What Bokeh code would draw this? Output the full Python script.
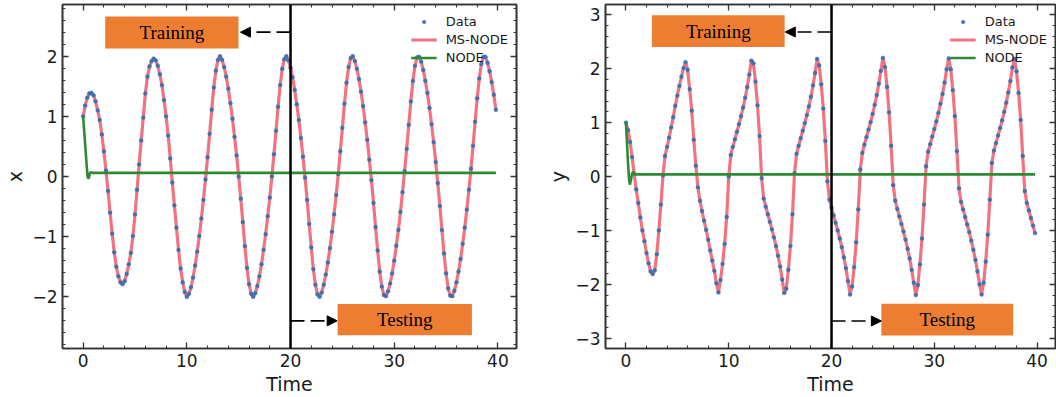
from bokeh.plotting import figure
from bokeh.layouts import row
from bokeh.models import (LinearAxis, SingleIntervalTicker, Span, Arrow, NormalHead,
                          Legend, LegendItem, Label, BoxAnnotation, CustomJSTickFormatter, Range1d)
from bokeh.embed import file_html
from bokeh.resources import INLINE

# ---------------- data ----------------
# samples every 0.2 time units, t = 0 ... 39.8
time = [round(0.2 * i, 1) for i in range(200)]

data_x = [
    1.00, 1.18, 1.31, 1.38, 1.39, 1.35, 1.25, 1.10, 0.94, 0.70,
    0.42, 0.10, -0.24, -0.60, -0.95, -1.26, -1.50, -1.66, -1.76, -1.79,
    -1.74, -1.62, -1.46, -1.27, -0.99, -0.63, -0.22, 0.20, 0.60, 0.98,
    1.38, 1.66, 1.83, 1.92, 1.96, 1.93, 1.84, 1.70, 1.52, 1.27,
    1.00, 0.68, 0.30, -0.10, -0.48, -0.85, -1.22, -1.53, -1.76, -1.92,
    -2.00, -1.95, -1.84, -1.68, -1.48, -1.25, -0.99, -0.70, -0.39, -0.05,
    0.32, 0.71, 1.11, 1.48, 1.76, 1.94, 2.00, 1.94, 1.82, 1.66,
    1.46, 1.22, 0.96, 0.66, 0.35, 0.00, -0.37, -0.76, -1.16, -1.52,
    -1.79, -1.95,
    -2.00, -1.94, -1.82, -1.66, -1.46, -1.22, -0.96, -0.66, -0.35, 0.00,
    0.37, 0.76, 1.16, 1.52, 1.79, 1.95, 2.00, 1.93, 1.81, 1.65,
    1.44, 1.20, 0.94, 0.64, 0.33, -0.02, -0.39, -0.79, -1.18, -1.54,
    -1.80, -1.96,
    -2.00, -1.93, -1.80, -1.63, -1.43, -1.19, -0.92, -0.63, -0.31, 0.04,
    0.42, 0.81, 1.21, 1.56, 1.82, 1.97, 2.00, 1.92, 1.79, 1.62,
    1.41, 1.17, 0.90, 0.61, 0.28, -0.06, -0.44, -0.84, -1.23, -1.58,
    -1.83, -1.97,
    -1.99, -1.91, -1.78, -1.61, -1.40, -1.15, -0.89, -0.59, -0.26, 0.09,
    0.46, 0.86, 1.25, 1.59, 1.84, 1.98, 1.99, 1.91, 1.77, 1.59,
    1.39, 1.14, 0.87, 0.57, 0.24, -0.11, -0.49, -0.89, -1.28, -1.61,
    -1.86, -1.98,
    -1.99, -1.90, -1.76, -1.58, -1.37, -1.12, -0.85, -0.55, -0.22, 0.13,
    0.51, 0.91, 1.30, 1.63, 1.87, 1.99, 1.99, 1.89, 1.75, 1.57,
    1.36, 1.11,
]

data_y = [
    1.00, 0.86, 0.64, 0.36, 0.05, -0.24, -0.49, -0.76, -1.00, -1.20,
    -1.42, -1.61, -1.76, -1.81, -1.74, -1.44, -1.00, -0.52, 0.02, 0.38,
    0.55, 0.72, 0.91, 1.10, 1.31, 1.50, 1.68, 1.85, 2.01, 2.12,
    1.98, 1.62, 1.22, 0.68, 0.20, -0.20, -0.45, -0.64, -0.82, -0.99,
    -1.17, -1.37, -1.56, -1.75, -1.98, -2.15, -1.92, -1.62, -1.25, -0.75,
    0.00, 0.40, 0.55, 0.69, 0.83, 0.97, 1.12, 1.28, 1.46, 1.66,
    1.89, 2.15, 2.10, 1.76, 1.32, 0.75, -0.03, -0.41, -0.56, -0.70,
    -0.84, -0.98, -1.13, -1.29, -1.47, -1.67, -1.91, -2.16, -2.08, -1.73,
    -1.29, -0.70,
    0.06, 0.42, 0.57, 0.71, 0.85, 0.99, 1.14, 1.30, 1.48, 1.69,
    1.92, 2.18, 2.06, 1.71, 1.26, 0.66, -0.09, -0.43, -0.58, -0.72,
    -0.86, -1.00, -1.15, -1.31, -1.50, -1.70, -1.94, -2.19, -2.04, -1.68,
    -1.22, -0.61,
    0.13, 0.44, 0.59, 0.73, 0.87, 1.01, 1.16, 1.33, 1.51, 1.72,
    1.96, 2.20, 2.03, 1.66, 1.19, 0.57, -0.16, -0.45, -0.60, -0.74,
    -0.88, -1.02, -1.17, -1.34, -1.52, -1.73, -1.97, -2.20, -2.01, -1.63,
    -1.15, -0.52,
    0.19, 0.46, 0.60, 0.74, 0.88, 1.02, 1.18, 1.35, 1.53, 1.74,
    1.99, 2.19, 1.99, 1.60, 1.12, 0.47, -0.22, -0.47, -0.61, -0.75,
    -0.89, -1.03, -1.19, -1.36, -1.55, -1.76, -2.00, -2.19, -1.97, -1.58,
    -1.08, -0.43,
    0.25, 0.48, 0.62, 0.76, 0.90, 1.04, 1.20, 1.37, 1.56, 1.77,
    2.02, 2.18, 1.95, 1.55, 1.05, 0.38, -0.27, -0.49, -0.63, -0.77,
    -0.91, -1.05,
]

# MS-NODE prediction follows the data points
msnode_x = list(data_x)
msnode_y = list(data_y)

# NODE prediction: quick collapse to a near-constant value
node_t = [0.0, 0.1, 0.2, 0.3, 0.4, 0.45, 0.55, 0.65, 0.75, 0.9, 39.8]
node_x = [1.00, 0.76, 0.52, 0.28, 0.05, -0.02, -0.03, 0.06, 0.07, 0.06, 0.06]
node_ty = [0.0, 0.1, 0.2, 0.3, 0.38, 0.5, 0.6, 0.7, 0.9, 39.8]
node_y = [1.00, 0.62, 0.25, -0.05, -0.15, -0.05, 0.06, 0.08, 0.04, 0.04]

split_time = 20
labels = ["Data", "MS-NODE", "NODE"]

# ---------------- styles ----------------
C_DATA = "#3A6FB0"
C_MS = "#EE5B6C"
C_NODE = "#2E8B34"
C_ORANGE = "#ED7D31"
AX = "#333333"
FONT = "DejaVu Sans"

minus_fmt = "return (tick < 0 ? '\u2212' : '') + Math.abs(tick).toFixed(0);"


def style_axis(ax, interval, show_labels=True):
    ax.ticker = SingleIntervalTicker(interval=interval, num_minor_ticks=5)
    ax.major_tick_in = 6
    ax.major_tick_out = 0
    ax.minor_tick_in = 3
    ax.minor_tick_out = 0
    ax.major_tick_line_color = AX
    ax.minor_tick_line_color = AX
    ax.major_tick_line_width = 1.3
    ax.minor_tick_line_width = 1.0
    ax.axis_line_color = AX
    ax.axis_line_width = 1.6
    if show_labels:
        ax.formatter = CustomJSTickFormatter(code=minus_fmt)
        ax.major_label_text_font = FONT
        ax.major_label_text_font_size = "17px"
        ax.major_label_text_color = "#1a1a1a"
        ax.major_label_standoff = 5
        ax.axis_label_text_font = FONT
        ax.axis_label_text_font_size = "19px"
        ax.axis_label_text_font_style = "normal"
        ax.axis_label_text_color = "#1a1a1a"
    else:
        ax.formatter = CustomJSTickFormatter(code="return '';")
        ax.major_label_text_font_size = "1px"
        ax.major_label_standoff = 0


def panel(series, ms, node_tt, node_v, ylab, yr, width, mb_right, train_box, test_box,
          train_arrow_end, test_arrow_end, arrow_y):
    p = figure(width=width, height=397, output_backend="svg", toolbar_location=None,
               x_range=Range1d(-1.99, 41.79), y_range=Range1d(-yr, yr),
               min_border_left=62, min_border_right=mb_right, min_border_top=4,
               min_border_bottom=47, x_axis_label="Time", y_axis_label=ylab)
    p.xgrid.visible = False
    p.ygrid.visible = False
    p.outline_line_color = AX
    p.outline_line_width = 1.6
    p.background_fill_color = "white"
    p.border_fill_color = "white"
    style_axis(p.xaxis[0], 10)
    style_axis(p.yaxis[0], 1)
    p.xaxis[0].axis_label_standoff = 3
    p.yaxis[0].axis_label_standoff = 3
    top = LinearAxis()
    style_axis(top, 10, show_labels=False)
    p.add_layout(top, "above")
    right = LinearAxis()
    style_axis(right, 1, show_labels=False)
    p.add_layout(right, "right")

    r_ms = p.line(time, ms, line_color=C_MS, line_width=3.2, line_alpha=0.85)
    r_data = p.scatter(time, series, size=3.8, fill_color=C_DATA, line_color=C_DATA,
                       line_alpha=0.5, fill_alpha=0.95)
    r_node = p.line(node_tt, node_v, line_color=C_NODE, line_width=2.6)

    p.add_layout(Span(location=split_time, dimension="height", line_color="black",
                      line_width=2.5))

    for (l, r, b, t), txt in ((train_box, "Training"), (test_box, "Testing")):
        p.add_layout(BoxAnnotation(left=l, right=r, bottom=b, top=t, fill_color=C_ORANGE,
                                   fill_alpha=1.0, line_alpha=0))
        p.add_layout(Label(x=(l + r) / 2, y=(b + t) / 2, text=txt, text_align="center",
                           text_baseline="middle", text_font="Liberation Serif",
                           text_font_size="19px", text_color="black"))

    for xe, ye in ((train_arrow_end, arrow_y), (test_arrow_end, -arrow_y)):
        p.add_layout(Arrow(x_start=split_time, y_start=ye, x_end=xe, y_end=ye,
                           line_color="black", line_width=1.7, line_dash="14 6",
                           end=NormalHead(size=10, fill_color="black", line_color="black")))

    legend = Legend(items=[LegendItem(label=labels[0], renderers=[r_data]),
                           LegendItem(label=labels[1], renderers=[r_ms]),
                           LegendItem(label=labels[2], renderers=[r_node])],
                    location="top_right", border_line_alpha=0, background_fill_alpha=0,
                    label_text_font=FONT, label_text_font_size="13px",
                    label_text_color="#1a1a1a", glyph_width=26, glyph_height=9,
                    label_height=18, label_standoff=9, spacing=0, padding=4, margin=4)
    p.add_layout(legend)
    return p


p1 = panel(data_x, msnode_x, node_t, node_x, "x", 2.86, 543, 27,
           (2.13, 14.98, 2.13, 2.66), (24.54, 37.49, -2.64, -2.12),
           15.17, 24.5, 2.40)
p2 = panel(data_y, msnode_y, node_ty, node_y, "y", 3.19, 513, 1,
           (2.52, 15.44, 2.40, 2.99), (24.85, 37.67, -2.95, -2.36),
           15.5, 24.85, 2.68)

layout = row(p1, p2)
open("out.html", "w").write(file_html(layout, INLINE))
